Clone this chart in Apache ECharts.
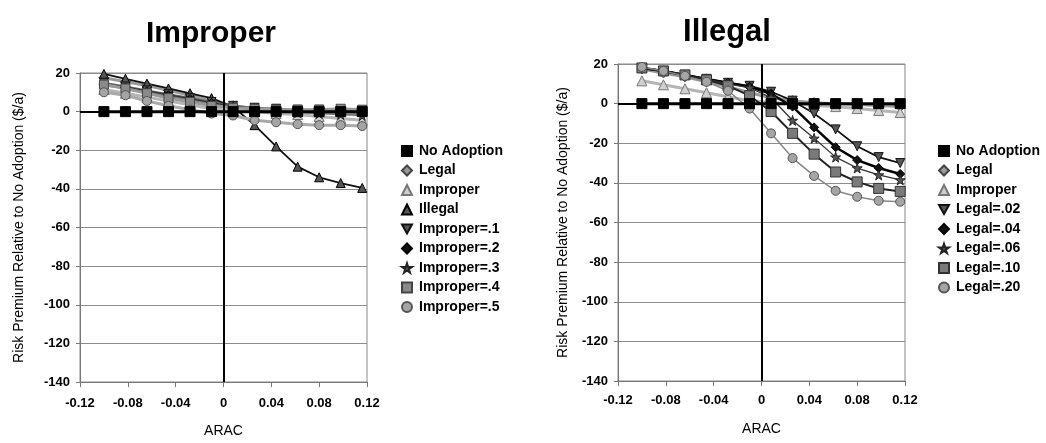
<!DOCTYPE html>
<html>
<head>
<meta charset="utf-8">
<script src="https://cdn.jsdelivr.net/npm/echarts/dist/echarts.min.js"></script>
<style>
html,body{margin:0;padding:0;background:#fff;}
#chart{width:1046px;height:443px;}
</style>
</head>
<body>
<div id="chart"></div>
<script>
// ---------- DATA ----------
const aracValues = [-0.100, -0.082, -0.064, -0.046, -0.028, -0.010, 0.008, 0.026, 0.044, 0.062, 0.080, 0.098, 0.116];
const xTicks = [-0.12, -0.08, -0.04, 0, 0.04, 0.08, 0.12];
const yTicks = [20, 0, -20, -40, -60, -80, -100, -120, -140];

const noAdoption = [0, 0, 0, 0, 0, 0, 0, 0, 0, 0, 0, 0, 0];
const legal      = [17.5, 15.5, 13.5, 11, 8.5, 5.5, 3, 1.5, 0.5, 0, -0.5, -1, -1.5];
const improper   = [11.5, 9.5, 7.5, 5.5, 3.5, 1.5, 0.5, 0, -1, -1.5, -2.5, -3.5, -4.5];
const illegal    = [19.5, 17, 14.5, 12, 9.5, 7, 2.5, -7, -18, -28.5, -34, -37, -39.5];

const improper01 = [15, 13, 11, 9, 7, 5, 3, 2, 1.5, 1, 1, 0.5, 0.5];
const improper02 = [14, 12.5, 10.5, 8.5, 6.5, 4.5, 2.5, 1.5, 1, 0.5, 0, 0, -0.5];
const improper03 = [13.5, 12, 10, 8, 6, 4, 2, 1, 0, -0.5, -1, -1.5, -2];
const improper04 = [14, 12, 9.5, 7, 5, 3, 2, 1.5, 1, 1, 1, 1.5, 1];
const improper05 = [10, 8.5, 5.5, 3, 1, -1, -2, -4.5, -5.5, -6.5, -7, -7, -7.5];

const legal002 = [18, 16.5, 14.5, 12.5, 10.5, 9, 6, 1.5, -5, -13, -21.5, -27, -30];
const legal004 = [18, 16.5, 14.5, 12.5, 10.5, 8.5, 5, -1.5, -12, -22, -28.5, -32.5, -35.5];
const legal006 = [18, 16.5, 14.5, 12.5, 10, 8, 3, -8.5, -17.5, -27, -32.5, -36, -38.5];
const legal010 = [18, 16.5, 14.5, 12, 9, 4, -4, -15, -25.5, -34.5, -39.5, -42.8, -44.3];
const legal020 = [18.5, 16.5, 14, 11, 6.5, -2.5, -15, -27.5, -36.5, -44, -47, -49, -49.5];

const leftNames  = ['No Adoption', 'Legal', 'Improper', 'Illegal', 'Improper=.1', 'Improper=.2', 'Improper=.3', 'Improper=.4', 'Improper=.5'];
const rightNames = ['No Adoption', 'Legal', 'Improper', 'Legal=.02', 'Legal=.04', 'Legal=.06', 'Legal=.10', 'Legal=.20'];

// ---------- STYLES ----------
const FONT = '"Liberation Sans", Arial, sans-serif';
const DOWN = 'path://M0,0 L10,0 L5,9 Z';
const STAR = 'path://M50,0 L61,35 L98,35 L68,57 L79,91 L50,70 L21,91 L32,57 L2,35 L39,35 Z';

const styles = {
  'No Adoption': {symbol: 'rect', size: 10, color: '#000', border: '#000', line: '#000', width: 3, icon: 'rect'},
  'Legal':       {symbol: 'diamond', size: 10, color: '#9a9a9a', border: '#444', line: '#9a9a9a', width: 3, icon: 'diamond'},
  'Improper':    {symbol: 'triangle', size: 10, color: '#cfcfcf', border: '#777', line: '#b5b5b5', width: 3, icon: 'triangle'},
  'Illegal':     {symbol: 'triangle', size: 9, color: '#555', border: '#000', line: '#111', width: 1.8, icon: 'triangle'},
  'Improper=.1': {symbol: DOWN, size: 9, color: '#555', border: '#111', line: '#666', width: 2, icon: DOWN},
  'Improper=.2': {symbol: 'diamond', size: 9, color: '#111', border: '#000', line: '#333', width: 2, icon: 'diamond'},
  'Improper=.3': {symbol: STAR, size: 10, color: '#555', border: '#222', line: '#777', width: 1.5, icon: STAR},
  'Improper=.4': {symbol: 'rect', size: 9, color: '#8a8a8a', border: '#444', line: '#999', width: 3, icon: 'rect'},
  'Improper=.5': {symbol: 'circle', size: 9, color: '#a5a5a5', border: '#555', line: '#aaa', width: 3, icon: 'circle'},
  'Legal=.02':   {symbol: DOWN, size: 9, color: '#555', border: '#111', line: '#111', width: 1.8, icon: DOWN},
  'Legal=.04':   {symbol: 'diamond', size: 9, color: '#111', border: '#000', line: '#000', width: 2.5, icon: 'diamond'},
  'Legal=.06':   {symbol: STAR, size: 10, color: '#555', border: '#222', line: '#333', width: 1.3, icon: STAR},
  'Legal=.10':   {symbol: 'rect', size: 10, color: '#7a7a7a', border: '#333', line: '#222', width: 2, icon: 'rect'},
  'Legal=.20':   {symbol: 'circle', size: 9, color: '#a5a5a5', border: '#555', line: '#888', width: 1.5, icon: 'circle'}
};

const leftData = {
  'No Adoption': noAdoption, 'Legal': legal, 'Improper': improper, 'Illegal': illegal,
  'Improper=.1': improper01, 'Improper=.2': improper02, 'Improper=.3': improper03,
  'Improper=.4': improper04, 'Improper=.5': improper05
};
const rightData = {
  'No Adoption': noAdoption, 'Legal': legal, 'Improper': improper,
  'Legal=.02': legal002, 'Legal=.04': legal004, 'Legal=.06': legal006,
  'Legal=.10': legal010, 'Legal=.20': legal020
};

function makeSeries(name, vals, idx) {
  const s = styles[name];
  return {
    name: name,
    type: 'line',
    xAxisIndex: idx,
    yAxisIndex: idx,
    data: aracValues.map((x, i) => [x, vals[i]]),
    symbol: s.symbol,
    symbolSize: s.size,
    showAllSymbol: true,
    lineStyle: {color: s.line, width: s.width},
    itemStyle: {color: s.color, borderColor: s.border, borderWidth: 1},
    emphasis: {disabled: true},
    animation: false,
    z: name === 'No Adoption' ? 5 : 3
  };
}

function refLines(idx) {
  return {
    type: 'line', xAxisIndex: idx, yAxisIndex: idx, data: [], silent: true, animation: false,
    markLine: {
      silent: true, symbol: 'none', animation: false,
      label: {show: false},
      lineStyle: {color: '#000', width: 2, type: 'solid'},
      data: [{xAxis: 0}, {yAxis: 0}]
    }
  };
}

const fmtX = v => String(Math.round(v * 100) / 100);

function xAxisCfg(idx, gap, margin) {
  return {
    type: 'value', gridIndex: idx, min: xTicks[0], max: xTicks[xTicks.length - 1], interval: 0.04,
    name: 'ARAC', nameLocation: 'middle', nameGap: gap,
    nameTextStyle: {fontFamily: FONT, fontSize: 14, color: '#000'},
    axisLine: {show: true, onZero: false, lineStyle: {color: '#777', width: 1}},
    axisTick: {show: true, inside: false, length: 5, lineStyle: {color: '#777'}},
    axisLabel: {fontFamily: FONT, fontSize: 13, fontWeight: 'bold', color: '#000', margin: margin, formatter: fmtX},
    splitLine: {show: false}
  };
}
function yAxisCfg(idx, gap) {
  return {
    type: 'value', gridIndex: idx, min: yTicks[yTicks.length - 1], max: yTicks[0], interval: 20,
    name: 'Risk Premium Relative to No Adoption ($/a)', nameLocation: 'middle', nameGap: gap, nameRotate: 90,
    nameTextStyle: {fontFamily: FONT, fontSize: 14, color: '#000'},
    axisLine: {show: true, onZero: false, lineStyle: {color: '#777', width: 1}},
    axisTick: {show: true, inside: false, length: 4, lineStyle: {color: '#777'}},
    axisLabel: {fontFamily: FONT, fontSize: 13, fontWeight: 'bold', color: '#000', margin: 10},
    splitLine: {show: true, lineStyle: {color: '#8c8c8c', width: 1}}
  };
}

function legendCfg(names, left) {
  return {
    orient: 'vertical', left: left, top: 139,
    itemWidth: 10, itemHeight: 10, itemGap: 5.5,
    textStyle: {fontFamily: FONT, fontSize: 14, fontWeight: 'bold', color: '#000', padding: [0, 0, 0, 2]},
    selectedMode: false,
    data: names.map(n => ({name: n, icon: styles[n].icon}))
  };
}

const series = [];
leftNames.forEach(n => series.push(makeSeries(n, leftData[n], 0)));
series.push(refLines(0));
rightNames.forEach(n => series.push(makeSeries(n, rightData[n], 1)));
series.push(refLines(1));

const option = {
  backgroundColor: '#fff',
  animation: false,
  title: [
    {text: 'Improper', left: 206, top: 14, textAlign: 'center',
     textStyle: {fontFamily: FONT, fontSize: 30, fontWeight: 'bold', color: '#000'}},
    {text: 'Illegal', left: 722, top: 12, textAlign: 'center',
     textStyle: {fontFamily: FONT, fontSize: 31, fontWeight: 'bold', color: '#000'}}
  ],
  grid: [
    {left: 80, top: 73, width: 287, height: 315, show: true, borderColor: '#888', borderWidth: 1, backgroundColor: 'transparent'},
    {left: 618, top: 64, width: 287, height: 317, show: true, borderColor: '#888', borderWidth: 1, backgroundColor: 'transparent'}
  ],
  xAxis: [xAxisCfg(0, 42, 15), xAxisCfg(1, 41, 13)],
  yAxis: [yAxisCfg(0, 54), yAxisCfg(1, 48)],
  legend: [legendCfg(leftNames, 396), legendCfg(rightNames, 933)],
  series: series
};

const chart = echarts.init(document.getElementById('chart'), null, {renderer: 'canvas'});
chart.setOption(option);
</script>
</body>
</html>
